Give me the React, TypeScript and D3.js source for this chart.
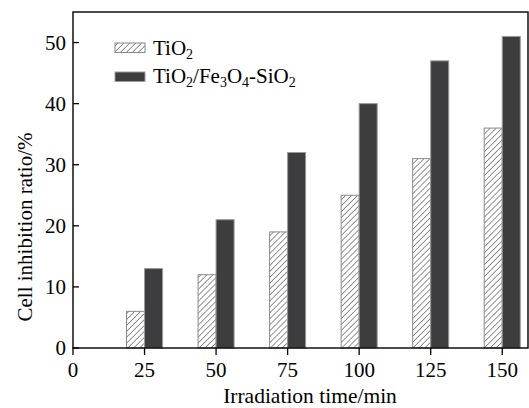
import React from "react";
import * as d3 from "d3";

const times = [25, 50, 75, 100, 125, 150];
const tio2 = [6, 12, 19, 25, 31, 36];
const composite = [13, 21, 32, 40, 47, 51];
const xTicks = [0, 25, 50, 75, 100, 125, 150];
const yTicks = [0, 10, 20, 30, 40, 50];

const W = 529, H = 408;
const M = { left: 73, right: 528, top: 12, bottom: 348 };
const FONT = "'Liberation Serif', 'Times New Roman', serif";

export default function App() {
  const x = d3.scaleLinear().domain([0, 159]).range([M.left, M.right]);
  const y = d3.scaleLinear().domain([0, 55]).range([M.bottom, M.top]);
  const bw = x(6.3) - x(0);
  const dark = "#3d3c3f";

  const sub = (t: string) => (
    <tspan fontSize={14} dy={4}>{t}</tspan>
  );

  return (
    <svg width={W} height={H} style={{ position: "absolute", left: 0, top: 0, background: "#fff" }} fontFamily={FONT}>
      <defs>
        <pattern id="hatch" patternUnits="userSpaceOnUse" width={4.2} height={4.2} patternTransform="rotate(45)">
          <rect width={4.2} height={4.2} fill="#fff" />
          <line x1={0} y1={0} x2={0} y2={4.2} stroke="#2a2a2a" strokeWidth={1} />
        </pattern>
      </defs>
      {/* bars */}
      {times.map((t, i) => (
        <g key={t}>
          <rect x={x(t) - bw} y={y(tio2[i])} width={bw} height={y(0) - y(tio2[i])} fill="url(#hatch)" stroke="#8a8a8a" strokeWidth={1} />
          <rect x={x(t)} y={y(composite[i])} width={bw} height={y(0) - y(composite[i])} fill={dark} stroke="#9a9a9a" strokeWidth={1} />
        </g>
      ))}
      {/* frame */}
      <rect x={M.left} y={M.top} width={M.right - M.left} height={M.bottom - M.top} fill="none" stroke="#000" strokeWidth={1.4} />
      {/* y ticks */}
      {yTicks.map((v) => (
        <g key={v}>
          <line x1={x(0)} x2={x(0) + 6} y1={y(v)} y2={y(v)} stroke="#000" strokeWidth={1.3} />
          <text x={x(0) - 7} y={y(v)} dy="0.35em" textAnchor="end" fontSize={21} fill="#000">{v}</text>
        </g>
      ))}
      {/* x ticks */}
      {xTicks.map((v) => (
        <g key={v}>
          <line x1={x(v)} x2={x(v)} y1={y(0)} y2={y(0) + 7} stroke="#000" strokeWidth={1.3} />
          <text x={x(v)} y={377} textAnchor="middle" fontSize={21} fill="#000">{v}</text>
        </g>
      ))}
      <text x={310} y={403} textAnchor="middle" fontSize={21.5} fill="#000">Irradiation time/min</text>
      <text transform={`translate(32, 227) rotate(-90)`} textAnchor="middle" fontSize={21} fill="#000">Cell inhibition ratio/%</text>
      {/* legend */}
      <rect x={115} y={43} width={30} height={9.5} fill="url(#hatch)" stroke="#8a8a8a" strokeWidth={1} />
      <rect x={115} y={72} width={30} height={9.5} fill={dark} stroke="#9a9a9a" strokeWidth={1} />
      <text x={153} y={55} fontSize={21} fill="#000">TiO{sub("2")}</text>
      <text x={153} y={83} fontSize={21} fill="#000">
        TiO{sub("2")}<tspan dy={-4}>/Fe</tspan>{sub("3")}<tspan dy={-4}>O</tspan>{sub("4")}<tspan dy={-4}>-SiO</tspan>{sub("2")}
      </text>
    </svg>
  );
}
